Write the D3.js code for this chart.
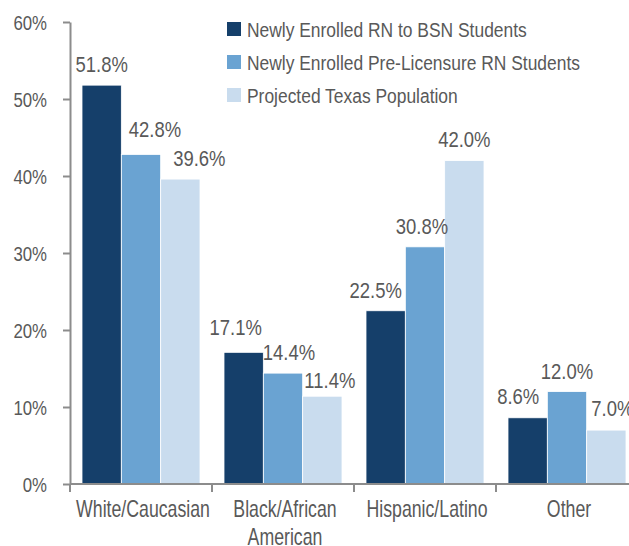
<!DOCTYPE html>
<html>
<head>
<meta charset="utf-8">
<script src="https://cdn.jsdelivr.net/npm/d3@7"></script>
<style>
  body { margin: 0; background: #fff; }
  svg text { font-family: "Liberation Sans", Arial, sans-serif; fill: #595959; }
</style>
</head>
<body>
<div id="chart"></div>
<script>
// data
var categories = ["White/Caucasian", "Black/African American", "Hispanic/Latino", "Other"];
var seriesNames = ["Newly Enrolled RN to BSN Students", "Newly Enrolled Pre-Licensure RN Students", "Projected Texas Population"];
var rnToBsn = [51.8, 17.1, 22.5, 8.6];
var preLicensure = [42.8, 14.4, 30.8, 12.0];
var texasPop = [39.6, 11.4, 42.0, 7.0];
var yTicks = [0, 10, 20, 30, 40, 50, 60];
var colors = ["#153f6a", "#6aa3d2", "#c9dcee"];

// the value labels were dragged around by hand in the original
var labelDx = [[0, -8, -10, -9.5], [14, 6, -3, 0], [19, 7.5, 0, 6]];
var labelGap = [[13, 17, 12.5, 14], [17.5, 13, 12.7, 12.7], [13, 8.5, 14, 14]];

var W = 629, H = 546;
var svg = d3.select("#chart").append("svg").attr("width", W).attr("height", H);

// no condensed face installed, so squeeze the text horizontally
function squeeze(sel, sx) {
  sel.attr("transform", function() {
    var t = d3.select(this);
    return `translate(${+t.attr("data-x")},${+t.attr("data-y")}) scale(${sx},1)`;
  });
}

var series = [rnToBsn, preLicensure, texasPop];

var x = d3.scaleBand().domain(categories).range([70, 638]).padding(0);
var x1 = d3.scaleBand().domain(d3.range(series.length)).range([12, x.bandwidth() - 12]).padding(0);
var y = d3.scaleLinear().domain([0, 60]).range([484, 22]);

// bars
var groups = svg.selectAll("g.grp").data(categories).enter().append("g")
  .attr("class", "grp")
  .attr("transform", (d)=> `translate(${x(d)},0)`);

var cells = (d, i)=> series.map((s, k)=> ({k: k, i: i, v: s[i]}));

groups.selectAll("rect").data(cells).enter().append("rect")
  .attr("x", (d)=> x1(d.k))
  .attr("width", x1.bandwidth())
  .attr("y", (d)=> y(d.v))
  .attr("height", (d)=> y(0) - y(d.v))
  .attr("fill", (d)=> colors[d.k])
  .attr("stroke", "#ffffff")
  .attr("stroke-width", 0.8);

groups.selectAll("text.val").data(cells).enter().append("text")
  .attr("class", "val")
  .attr("data-x", (d)=> x1(d.k) + x1.bandwidth() / 2 + labelDx[d.k][d.i])
  .attr("data-y", (d)=> y(d.v) - labelGap[d.k][d.i])
  .attr("text-anchor", "middle")
  .attr("font-size", 22)
  .text((d)=> d.v.toFixed(1) + "%")
  .call(squeeze, 0.84);

// y axis
var yAxis = svg.append("g").attr("transform", "translate(70,0)")
  .call(d3.axisLeft(y).tickValues(yTicks).tickSize(7).tickSizeOuter(0).tickFormat((d)=> d + "%"));
yAxis.select(".domain").attr("stroke", "#8c8c8c").attr("stroke-width", 2);
yAxis.selectAll(".tick line").attr("stroke", "#8c8c8c").attr("stroke-width", 2);
yAxis.selectAll(".tick text")
  .attr("x", null).attr("dy", "0.36em")
  .attr("data-x", -23).attr("data-y", 0)
  .attr("font-size", 21).attr("font-family", null).style("fill", "#595959")
  .call(squeeze, 0.8);

// x axis
var xg = svg.append("g");
xg.append("line").attr("x1", x.range()[0]).attr("x2", x.range()[1])
  .attr("y1", y(0)).attr("y2", y(0)).attr("stroke", "#8c8c8c").attr("stroke-width", 2);
xg.selectAll("line.tk").data(categories).enter().append("line")
  .attr("class", "tk")
  .attr("x1", (d)=> x(d)).attr("x2", (d)=> x(d))
  .attr("y1", y(0)).attr("y2", y(0) + 8)
  .attr("stroke", "#8c8c8c").attr("stroke-width", 2);

var catLabels = xg.selectAll("text.cat").data(categories).enter().append("text")
  .attr("class", "cat")
  .attr("text-anchor", "middle")
  .attr("font-size", 23)
  .attr("data-x", (d)=> x(d) + x.bandwidth() / 2 + 2)
  .attr("data-y", 517)
  .call(squeeze, 0.77);
catLabels.each(function(d) {
  var lines = d == "Black/African American" ? ["Black/African", "American"] : [d];
  d3.select(this).selectAll("tspan").data(lines).enter().append("tspan")
    .attr("x", 0).attr("y", (l, i)=> i * 28).text((l)=> l);
});

// legend
var legend = svg.append("g").attr("transform", "translate(227,22)");
var items = legend.selectAll("g").data(seriesNames).enter().append("g")
  .attr("transform", (d, i)=> `translate(0,${i * 33})`);
items.append("rect").attr("width", 14).attr("height", 14).attr("fill", (d, i)=> colors[i]);
items.append("text")
  .attr("data-x", 20).attr("data-y", 14.5)
  .attr("font-size", 21)
  .text((d)=> d)
  .call(squeeze, 0.83);
</script>
</body>
</html>
